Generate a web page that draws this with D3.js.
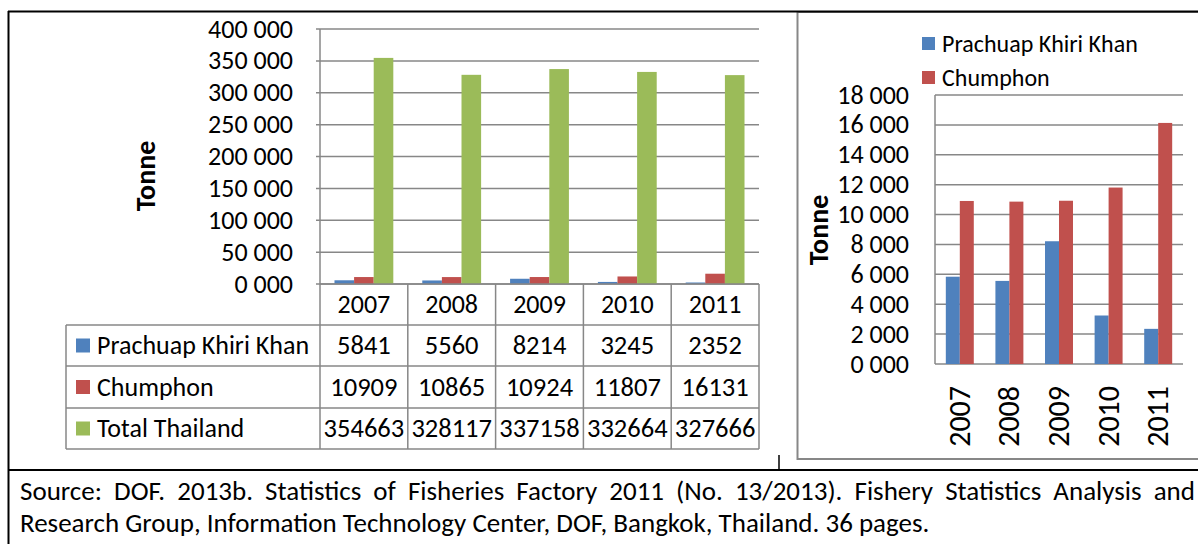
<!DOCTYPE html>
<html>
<head>
<meta charset="utf-8">
<script src="https://cdn.jsdelivr.net/npm/d3@7"></script>
<style>
  body { margin: 0; background: #fff; }
  svg text { font-family: "Carlito", "Lato", sans-serif; fill: #000; }
</style>
</head>
<body>
<script>
var years = ["2007", "2008", "2009", "2010", "2011"];
var seriesNames = ["Prachuap Khiri Khan", "Chumphon", "Total Thailand"];
var prachuap = [5841, 5560, 8214, 3245, 2352];
var chumphon = [10909, 10865, 10924, 11807, 16131];
var totalThailand = [354663, 328117, 337158, 332664, 327666];
var leftTicks = [0, 50000, 100000, 150000, 200000, 250000, 300000, 350000, 400000];
var rightTicks = [0, 2000, 4000, 6000, 8000, 10000, 12000, 14000, 16000, 18000];
var sourceLines = [
  "Source: DOF. 2013b. Statistics of Fisheries Factory 2011 (No. 13/2013). Fishery Statistics Analysis and",
  "Research Group, Information Technology Center, DOF, Bangkok, Thailand. 36 pages."
];

var colors = ["#4F81BD", "#C0504D", "#9BBB59"];
var gridColor = "#878787";
var fmt = function(d) { return Math.floor(d / 1000) + " 000"; };

var width = 1198, height = 544;
var svg = d3.select("body").append("svg")
    .attr("width", width)
    .attr("height", height);

svg.append("rect").attr("width", width).attr("height", height).attr("fill", "#fff");

// ---------- left chart ----------
var allSeries = [prachuap, chumphon, totalThailand];
var x0 = d3.scaleBand().domain(years).range([320, 759]);
var bw = x0.bandwidth();
var x1 = d3.scaleBand().domain(seriesNames).range([bw * 0.165, bw * 0.835]);
var y = d3.scaleLinear().domain([0, 400000]).range([284, 29]);

var gL = svg.append("g");
gL.selectAll(".grid").data(leftTicks).enter().append("line")
    .attr("x1", 316).attr("x2", 759)
    .attr("y1", function(d) { return y(d); }).attr("y2", function(d) { return y(d); })
    .attr("stroke", gridColor).attr("stroke-width", 1.5);
gL.append("line").attr("x1", 320).attr("x2", 320).attr("y1", 29).attr("y2", 449)
    .attr("stroke", gridColor).attr("stroke-width", 1.5);

gL.selectAll(".tick").data(leftTicks).enter().append("text")
    .attr("x", 293).attr("y", function(d) { return y(d); })
    .attr("dy", "0.33em").attr("text-anchor", "end")
    .style("font-size", "26px").text(fmt);

gL.append("text")
    .attr("transform", "translate(155,176) rotate(-90)")
    .attr("text-anchor", "middle")
    .style("font-size", "28px").style("font-weight", "bold")
    .text("Tonne");

seriesNames.forEach(function(s, si) {
  gL.selectAll(".bar" + si).data(allSeries[si]).enter().append("rect")
      .attr("x", function(d, i) { return x0(years[i]) + x1(s); })
      .attr("width", x1.bandwidth())
      .attr("y", function(d) { return y(d); })
      .attr("height", function(d) { return y(0) - y(d); })
      .attr("fill", colors[si]);
});

// data table under the left chart
var rowTops = [284, 325, 366, 408, 449];
var tableLeft = 66;
rowTops.forEach(function(r, i) {
  gL.append("line")
      .attr("x1", i === 0 ? 320 : tableLeft).attr("x2", 759)
      .attr("y1", r).attr("y2", r)
      .attr("stroke", gridColor).attr("stroke-width", 1.5);
});
gL.append("line").attr("x1", tableLeft).attr("x2", tableLeft).attr("y1", 325).attr("y2", 449)
    .attr("stroke", gridColor).attr("stroke-width", 1.5);
years.forEach(function(yr) {
  gL.append("line").attr("x1", x0(yr) + bw).attr("x2", x0(yr) + bw).attr("y1", 284).attr("y2", 449)
      .attr("stroke", gridColor).attr("stroke-width", 1.5);
  gL.append("text").attr("x", x0(yr) + bw / 2).attr("y", 304).attr("dy", "0.33em")
      .attr("text-anchor", "middle").style("font-size", "26px").text(yr);
});
seriesNames.forEach(function(s, si) {
  var cy = (rowTops[si + 1] + rowTops[si + 2]) / 2;
  gL.append("rect").attr("x", 76).attr("y", cy - 7).attr("width", 14).attr("height", 14)
      .attr("fill", colors[si]);
  gL.append("text").attr("x", 97).attr("y", cy).attr("dy", "0.33em")
      .style("font-size", "26px").text(s);
  allSeries[si].forEach(function(v, i) {
    gL.append("text").attr("x", x0(years[i]) + bw / 2).attr("y", cy).attr("dy", "0.33em")
        .attr("text-anchor", "middle").style("font-size", "26.5px").text(v);
  });
});

// ---------- right chart ----------
var gR = svg.append("g");
gR.append("rect").attr("x", 797.5).attr("y", 12).attr("width", 420).attr("height", 447)
    .attr("fill", "none").attr("stroke", gridColor).attr("stroke-width", 2);

var rSeries = [prachuap, chumphon];
var rx0 = d3.scaleBand().domain(years).range([935, 1183]);
var rbw = rx0.bandwidth();
var rx1 = d3.scaleBand().domain(seriesNames.slice(0, 2)).range([rbw * 0.218, rbw * 0.782]);
var ry = d3.scaleLinear().domain([0, 18000]).range([364, 95]);

gR.selectAll(".grid").data(rightTicks).enter().append("line")
    .attr("x1", 935).attr("x2", 1183)
    .attr("y1", function(d) { return ry(d); }).attr("y2", function(d) { return ry(d); })
    .attr("stroke", gridColor).attr("stroke-width", 1.5);
gR.append("line").attr("x1", 935).attr("x2", 935).attr("y1", 95).attr("y2", 364)
    .attr("stroke", gridColor).attr("stroke-width", 1.5);

gR.selectAll(".tick").data(rightTicks).enter().append("text")
    .attr("x", 909).attr("y", function(d) { return ry(d); })
    .attr("dy", "0.33em").attr("text-anchor", "end")
    .style("font-size", "26px").text(fmt);

[0, 1].forEach(function(si) {
  gR.selectAll(".rbar" + si).data(rSeries[si]).enter().append("rect")
      .attr("x", function(d, i) { return rx0(years[i]) + rx1(seriesNames[si]); })
      .attr("width", rx1.bandwidth())
      .attr("y", function(d) { return ry(d); })
      .attr("height", function(d) { return ry(0) - ry(d); })
      .attr("fill", colors[si]);
});

years.forEach(function(yr) {
  gR.append("text")
      .attr("transform", "translate(" + (rx0(yr) + rbw / 2) + ",386) rotate(-90)")
      .attr("dy", "0.33em").attr("text-anchor", "end")
      .style("font-size", "30px").text(yr);
});

gR.append("text")
    .attr("transform", "translate(828,230) rotate(-90)")
    .attr("text-anchor", "middle")
    .style("font-size", "28px").style("font-weight", "bold")
    .text("Tonne");

seriesNames.slice(0, 2).forEach(function(s, si) {
  var ly = 44 + si * 34;
  gR.append("rect").attr("x", 922).attr("y", ly - 7).attr("width", 13).attr("height", 13)
      .attr("fill", colors[si]);
  gR.append("text").attr("x", 942).attr("y", ly).attr("dy", "0.33em")
      .style("font-size", "24px").text(s);
});

// ---------- document borders ----------
var black = "#000";
svg.append("line").attr("x1", 8).attr("x2", 1198).attr("y1", 11.5).attr("y2", 11.5)
    .attr("stroke", black).attr("stroke-width", 2);
svg.append("line").attr("x1", 8.5).attr("x2", 8.5).attr("y1", 11).attr("y2", 544)
    .attr("stroke", black).attr("stroke-width", 2);
svg.append("line").attr("x1", 8).attr("x2", 1198).attr("y1", 470).attr("y2", 470)
    .attr("stroke", black).attr("stroke-width", 2);
svg.append("line").attr("x1", 779).attr("x2", 779).attr("y1", 455).attr("y2", 470)
    .attr("stroke", black).attr("stroke-width", 1.5);

// ---------- source note (first line justified) ----------
var srcSize = "27px";
var line1 = svg.append("g");
var words = sourceLines[0].split(" ");
var wTexts = words.map(function(w) {
  return line1.append("text").attr("y", 500).style("font-size", srcSize).text(w);
});
var widths = wTexts.map(function(t) { return t.node().getComputedTextLength(); });
var left = 20, right = 1195;
var gap = (right - left - d3.sum(widths)) / (words.length - 1);
var cx = left;
wTexts.forEach(function(t, i) { t.attr("x", cx); cx += widths[i] + gap; });

svg.append("text").attr("x", 20).attr("y", 532).style("font-size", srcSize).text(sourceLines[1]);
</script>
</body>
</html>
